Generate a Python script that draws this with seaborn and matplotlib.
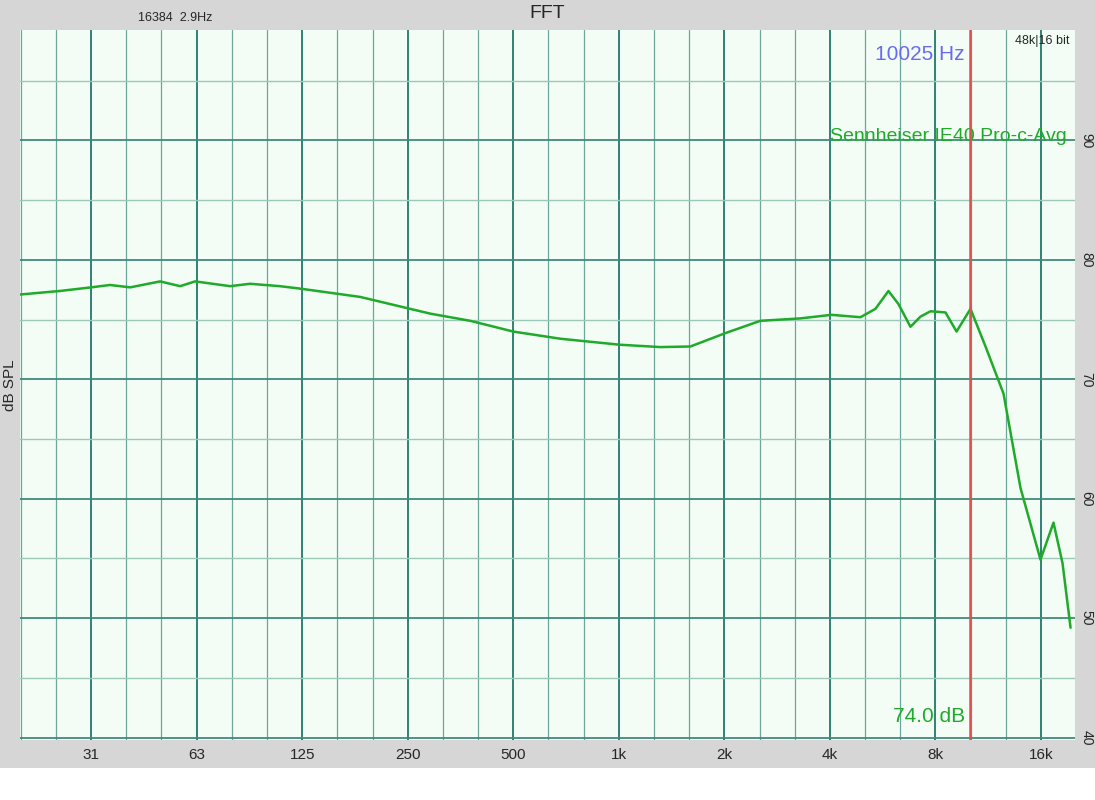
import matplotlib
matplotlib.use("Agg")
import matplotlib.pyplot as plt
import seaborn as sns
import numpy as np
import pandas as pd

freq = [19.6, 25.5, 31.25, 35.4, 40.4, 49.2, 56.1, 61.9, 77.9, 88.8, 108, 123, 150, 183, 238, 290, 377, 500,
        681, 1003, 1313, 1600, 2027, 2534, 3294, 4040, 4888, 5394, 5875, 6275, 6788, 7250, 7744, 8544, 9188,
        10069, 11113, 12509, 13984, 15944, 17366, 18428, 19425]
spl = [77.1, 77.4, 77.7, 77.9, 77.7, 78.2, 77.8, 78.2, 77.8, 78.0, 77.8, 77.6, 77.25, 76.9, 76.1, 75.5, 74.9, 74.0,
       73.4, 72.9, 72.7, 72.75, 73.9, 74.9, 75.1, 75.4, 75.2, 75.9, 77.4, 76.3, 74.4, 75.25, 75.7, 75.6, 74.0,
       75.9, 72.75, 68.8, 60.9, 54.9, 58.0, 54.6, 49.2]
tick_freqs = [31.25, 62.5, 125, 250, 500, 1000, 2000, 4000, 8000, 16000]
tick_labels = ["31", "63", "125", "250", "500", "1k", "2k", "4k", "8k", "16k"]
ytick_vals = [40, 50, 60, 70, 80, 90]

sns.set_theme(style="white")
plt.rcParams['font.family'] = ['Liberation Sans', 'DejaVu Sans']

fig = plt.figure(figsize=(10.95, 8.0), dpi=100, facecolor="#d6d6d6")
fig.patches.append(matplotlib.patches.Rectangle((0, 0), 1, 32/800, transform=fig.transFigure,
                                                facecolor="white", edgecolor="none", zorder=-1))
ax = fig.add_axes([20/1095, 60/800, 1055/1095, 710/800])
ax.set_facecolor("#f3fdf6")
ax.set_xscale("log")
ax.set_xlim(19.6, 20000)
ax.set_ylim(39.8, 99.25)

for k in range(-2, 28):
    f = 31.25 * 2 ** (k / 3)
    if 19.6 < f < 20000:
        major = (k % 3 == 0)
        ax.axvline(f, color="#1f7a6a" if major else "#6aa79a", lw=1.3 if major else 0.9, zorder=1)
for y in range(40, 100, 5):
    ax.axhline(y, color="#3f8a7a" if y % 10 == 0 else "#9cc8ba", lw=1.3 if y % 10 == 0 else 1.0, zorder=1)

df = pd.DataFrame({"f": freq, "spl": spl})
sns.lineplot(data=df, x="f", y="spl", ax=ax, color="#1faa2a", lw=1.8, zorder=3)
ax.axvline(10025, color="#e05050", lw=1.8, zorder=4)

ax.set_xticks(tick_freqs)
ax.set_xticklabels(tick_labels, fontsize=11)
ax.xaxis.set_minor_locator(matplotlib.ticker.NullLocator())
ax.yaxis.tick_right()
ax.set_yticks(ytick_vals)
ax.set_yticklabels([str(v) for v in ytick_vals], rotation=-90, fontsize=10, va="center", ha="left")
ax.tick_params(axis="y", length=0, pad=3)
ax.tick_params(axis="x", length=0, pad=6)
ax.set_xlabel("")
ax.set_ylabel("dB SPL", fontsize=11)
ax.yaxis.set_label_position("left")
ax.yaxis.labelpad = 2
for s in ax.spines.values():
    s.set_visible(False)

fig.text(0.5, 1 - 14/800, "FFT", ha="center", va="center", fontsize=14)
fig.text(138/1095, 1 - 18/800, "16384  2.9Hz", ha="left", va="center", fontsize=9)
ax.text(0.995, 0.993, "48k|16 bit", transform=ax.transAxes, ha="right", va="top", fontsize=9)
ax.text(9700, 97.2, "10025 Hz", ha="right", va="center", fontsize=15, color="#6a6af0")
ax.text(19000, 90.3, "Sennheiser IE40 Pro-c-Avg", ha="right", va="center", fontsize=14, color="#1faa2a")
ax.text(9700, 41.8, "74.0 dB", ha="right", va="center", fontsize=15, color="#1faa2a")

fig.savefig("out.png", dpi=100, facecolor=fig.get_facecolor())
